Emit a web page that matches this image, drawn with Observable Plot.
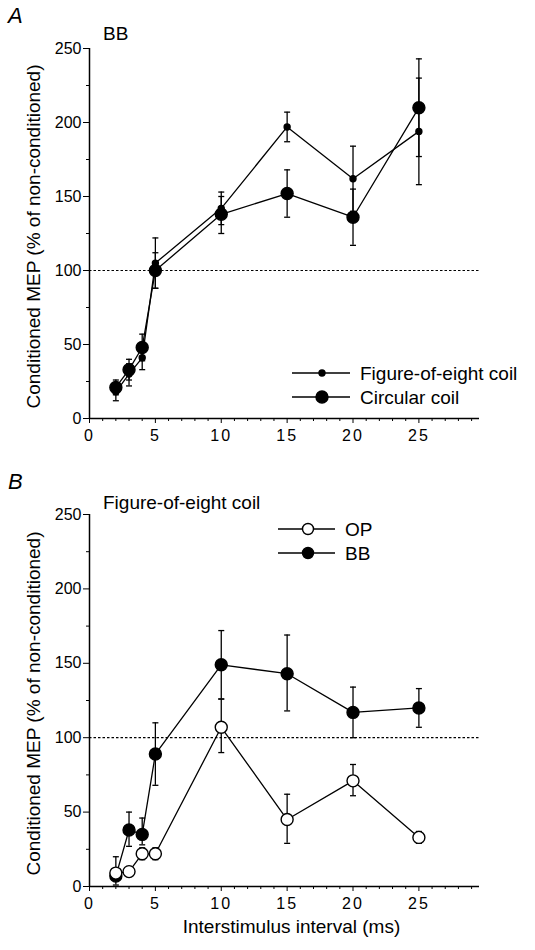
<!DOCTYPE html>
<html><head><meta charset="utf-8">
<script src="https://cdn.jsdelivr.net/npm/d3@7"></script>
<script src="https://cdn.jsdelivr.net/npm/@observablehq/plot@0.6"></script>
<style>
html,body{margin:0;padding:0;background:#fff;}
#wrap{position:relative;width:535px;height:950px;overflow:hidden;background:#fff;}
#wrap svg{position:absolute;left:0;}
#wrap svg g[aria-label="x-axis tick label"] text{letter-spacing:2px;}
</style></head><body><div id="wrap"></div>
<script>
// ---------- data ----------
const intervals = [2, 3, 4, 5, 10, 15, 20, 25];

// Panel A (subject BB)
const aFig8   = [18, 30, 41, 105, 142, 197, 162, 194];
const aFig8Hi = [24, 37, 50, 122, 153, 207, 184, 230];
const aFig8Lo = [12, 22, 33, 88, 131, 187, 140, 158];
const aCirc   = [21, 33, 48, 100, 138, 152, 136, 210];
const aCircHi = [26, 40, 57, 112, 150, 168, 155, 243];
const aCircLo = [16, 26, 39, 88, 125, 136, 117, 177];

// Panel B (figure-of-eight coil)
const bOP   = [9, 10, 22, 22, 107, 45, 71, 33];
const bOPHi = [12, 12, 26, 26, 126, 62, 82, 37];
const bOPLo = [6, 8, 18, 18, 90, 29, 61, 29];
const bBB   = [7, 38, 35, 89, 149, 143, 117, 120];
const bBBHi = [20, 50, 46, 110, 172, 169, 134, 133];
const bBBLo = [1, 27, 28, 68, 126, 118, 100, 107];

const xMajorTicks = [0, 5, 10, 15, 20, 25];
const xMinorTicks = [1, 2, 3, 4, 6, 7, 8, 9, 11, 12, 13, 14, 16, 17, 18, 19, 21, 22, 23, 24, 26, 27, 28, 29];
const yMajorTicks = [0, 50, 100, 150, 200, 250];
const yMinorTicks = [25, 75, 125, 175, 225];
const referenceLevel = [100];

const yLabel = "Conditioned MEP (% of non-conditioned)";
const xLabel = "Interstimulus interval (ms)";

// ---------- helpers ----------
const FONT = "'Liberation Sans', Arial, Helvetica, sans-serif";
const rows = (ys, his, los) => intervals.map((x, i) => ({x, y: ys[i], hi: his[i], lo: los[i]}));
const capSymbol = {draw(ctx) { ctx.moveTo(-3, 0); ctx.lineTo(3, 0); }};

function seriesMarks(data, {r, fill, lineWidth = 1.3}) {
  return [
    Plot.ruleX(data, {x: "x", y1: "lo", y2: "hi", stroke: "black", strokeWidth: 1.3}),
    Plot.dot(data, {x: "x", y: "hi", symbol: capSymbol, stroke: "black", strokeWidth: 1.3}),
    Plot.dot(data, {x: "x", y: "lo", symbol: capSymbol, stroke: "black", strokeWidth: 1.3}),
    Plot.line(data, {x: "x", y: "y", stroke: "black", strokeWidth: lineWidth}),
    Plot.dot(data, {x: "x", y: "y", r, fill, stroke: "black", strokeWidth: 1.4})
  ];
}

function makePanel({height, marginTop, marginBottom, series, showXLabel}) {
  const marks = [
    Plot.ruleY(referenceLevel, {x1: 0, x2: 29.6, stroke: "black", strokeWidth: 1.2, strokeDasharray: "2.5,2"}),
    Plot.ruleX([0], {y1: 0, y2: 250, stroke: "black", strokeWidth: 1.5}),
    Plot.ruleY([0], {x1: 0, x2: 29.6, stroke: "black", strokeWidth: 1.5}),
    Plot.axisY({ticks: yMajorTicks, tickSize: 6, tickPadding: 2, fontSize: 16, label: null}),
    Plot.axisY({ticks: yMinorTicks, tickSize: 3, tickFormat: () => "", label: null}),
    Plot.axisX({ticks: xMajorTicks, tickSize: 5, tickPadding: 6, fontSize: 16, label: null}),
    Plot.axisX({ticks: xMinorTicks, tickSize: 3, tickFormat: () => "", label: null}),
    Plot.text([yLabel], {frameAnchor: "left", textAnchor: "middle", lineAnchor: "middle", rotate: -90, dx: -56, dy: 3, fontSize: 19}),
    ...series
  ];
  if (showXLabel) marks.push(Plot.text([xLabel], {frameAnchor: "bottom", dx: 7, dy: 46, fontSize: 19}));
  return Plot.plot({
    width: 535, height, marginLeft: 89, marginRight: 56, marginTop, marginBottom,
    style: {fontFamily: FONT, fontSize: "16px", background: "white", color: "black", overflow: "visible"},
    x: {domain: [0, 29.6], axis: null},
    y: {domain: [0, 250], axis: null},
    marks
  });
}

function addText(svg, x, y, text, size, italic) {
  d3.select(svg).append("text").attr("x", x).attr("y", y).text(text)
    .attr("text-anchor", "start")
    .attr("font-family", FONT).attr("font-size", size).attr("fill", "black")
    .attr("font-style", italic ? "italic" : null);
}
function addLegendRow(svg, x1, x2, xm, y, r, fill, label, tx) {
  const g = d3.select(svg).append("g");
  g.append("line").attr("x1", x1).attr("x2", x2).attr("y1", y).attr("y2", y).attr("stroke", "black").attr("stroke-width", 1.3);
  g.append("circle").attr("cx", xm).attr("cy", y).attr("r", r).attr("fill", fill).attr("stroke", "black").attr("stroke-width", 1.4);
  g.append("text").attr("x", tx).attr("y", y + 7).text(label).attr("text-anchor", "start")
    .attr("font-family", FONT).attr("font-size", 19).attr("fill", "black");
}

// ---------- panel A ----------
const dA8 = rows(aFig8, aFig8Hi, aFig8Lo);
const dAC = rows(aCirc, aCircHi, aCircLo);
const svgA = makePanel({
  height: 460, marginTop: 48, marginBottom: 42, showXLabel: false,
  series: [...seriesMarks(dAC, {r: 6, fill: "black"}), ...seriesMarks(dA8, {r: 3, fill: "black"})]
});
svgA.style.top = "0px";
addText(svgA, 8, 23, "A", 22, true);
addText(svgA, 103, 40, "BB", 19, false);
addLegendRow(svgA, 292, 350, 322, 373, 3, "black", "Figure-of-eight coil", 360);
addLegendRow(svgA, 292, 350, 322, 397, 6, "black", "Circular coil", 360);

// ---------- panel B ----------
const dBO = rows(bOP, bOPHi, bOPLo);
const dBB = rows(bBB, bBBHi, bBBLo);
const svgB = makePanel({
  height: 490, marginTop: 54, marginBottom: 64, showXLabel: true,
  series: [...seriesMarks(dBB, {r: 6, fill: "black"}), ...seriesMarks(dBO, {r: 6, fill: "white"})]
});
svgB.style.top = "460px";
addText(svgB, 8, 29, "B", 22, true);
addText(svgB, 103, 49, "Figure-of-eight coil", 19, false);
addLegendRow(svgB, 278, 335, 308, 69, 5.5, "white", "OP", 345);
addLegendRow(svgB, 278, 335, 308, 93, 5.5, "black", "BB", 345);

document.getElementById("wrap").append(svgA, svgB);
</script></body></html>
